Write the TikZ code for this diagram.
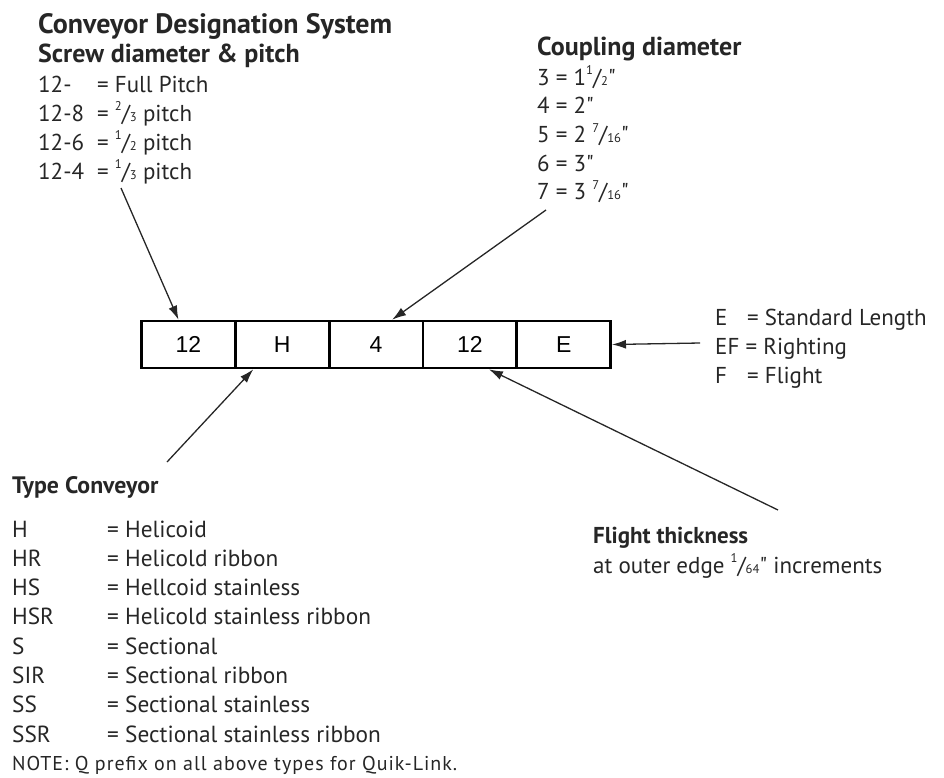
\documentclass[tikz,border=0pt]{standalone}
\usepackage{fontspec}
\setmainfont{PT Sans}[Ligatures=TeXOff]
\newfontfamily\cellfont{Liberation Sans}
\usetikzlibrary{arrows.meta}

\newcommand\frc[2]{\raisebox{.45em}{\scalebox{.55}{#1}}/\scalebox{.55}{#2}}
\newcommand\inch{\symbol{34}}

\tikzset{
  txt/.style={anchor=base west, inner sep=0pt, text=black!85},
  item/.style={txt, font=\fontsize{23}{23}\selectfont},
  head/.style={txt, font=\fontsize{26}{26}\selectfont\bfseries},
  cell/.style={draw, line width=2.6pt, minimum width=94pt, minimum height=47pt,
               inner sep=0pt, font=\cellfont\fontsize{23}{23}\selectfont},
  arr/.style={-{Latex[length=14pt,width=9pt]}, line width=1.3pt, black!85},
}

\begin{document}
\begin{tikzpicture}[x=1pt,y=-1pt]
\useasboundingbox (0,0) rectangle (944,777);

\node[head, font=\fontsize{28}{28}\selectfont\bfseries] (title) at (38,33) {Conveyor Designation System};

% screw diameter & pitch
\node[head] (scrhead) at (38,62) {Screw diameter \& pitch};
\foreach \k/\v [count=\i] in {12-/= Full Pitch, 12-8/= \frc{2}{3} pitch,
                              12-6/= \frc{1}{2} pitch, 12-4/= \frc{1}{3} pitch}
  \node[item] (scr\i) at (38,{92+29*(\i-1)}) {\makebox[59pt][l]{\k}\v};

% coupling diameter
\node[head] (cplhead) at (537,55) {Coupling diameter};
\foreach \v [count=\i] in {3 = 1\frc{1}{2}\inch, 4 = 2\inch, 5 = 2 \frc{7}{16}\inch, 6 = 3\inch, 7 = 3 \frc{7}{16}\inch}
  \node[item] (cpl\i) at (537,{85+28.7*(\i-1)}) {\v};

% length
\node[item] (len1) at (715,325) {\makebox[32pt][l]{E}= Standard Length};
\node[item] (len2) at (715,354) {EF = Righting};
\node[item] (len3) at (715,383) {\makebox[32pt][l]{F}= Flight};

% type conveyor
\node[head, font=\fontsize{23.8}{24}\selectfont\bfseries] (typhead) at (12,493) {Type Conveyor};
\foreach \k/\v [count=\i] in {H/Helicoid, HR/Helicold ribbon, HS/Hellcoid stainless,
    HSR/Helicold stainless ribbon, S/Sectional, SIR/Sectional ribbon,
    SS/Sectional stainless, SSR/Sectional stainless ribbon}
  \node[item, font=\fontsize{23.3}{24}\selectfont] (typ\i) at (12,{537+29.3*(\i-1)}) {\makebox[95pt][l]{\k}= \v};
\node[txt, font=\fontsize{20}{20}\selectfont\addfontfeature{LetterSpace=5}] (note) at (12,770) {NOTE: Q prefix on all above types for Quik-Link.};

% flight thickness
\node[head, font=\fontsize{23}{23}\selectfont\bfseries] (thkhead) at (593,543) {Flight thickness};
\node[item] (thk1) at (593,573) {at outer edge \frc{1}{64}\inch{} increments};

% designation boxes
\foreach \n/\t [count=\i] in {dia/12, typ/H, cpl/4, thk/12, len/E}
  \node[cell] (\n) at ({188.5+93.8*(\i-1)},344.5) {\t};

% arrows
\coordinate (s1) at (121,188);
\coordinate (s2) at (546,210);
\coordinate (s3) at (167,462);
\coordinate (s4) at (778,510);
\coordinate (s5) at (700,343);
\draw[arr] (s1) -- ([xshift=-10pt]dia.north);
\draw[arr] (s2) -- ([xshift=16pt]cpl.north);
\draw[arr] (s3) -- ([xshift=-29pt]typ.south);
\draw[arr] (s4) -- ([xshift=19pt]thk.south);
\draw[arr] (s5) -- (len.east);
\end{tikzpicture}
\end{document}
